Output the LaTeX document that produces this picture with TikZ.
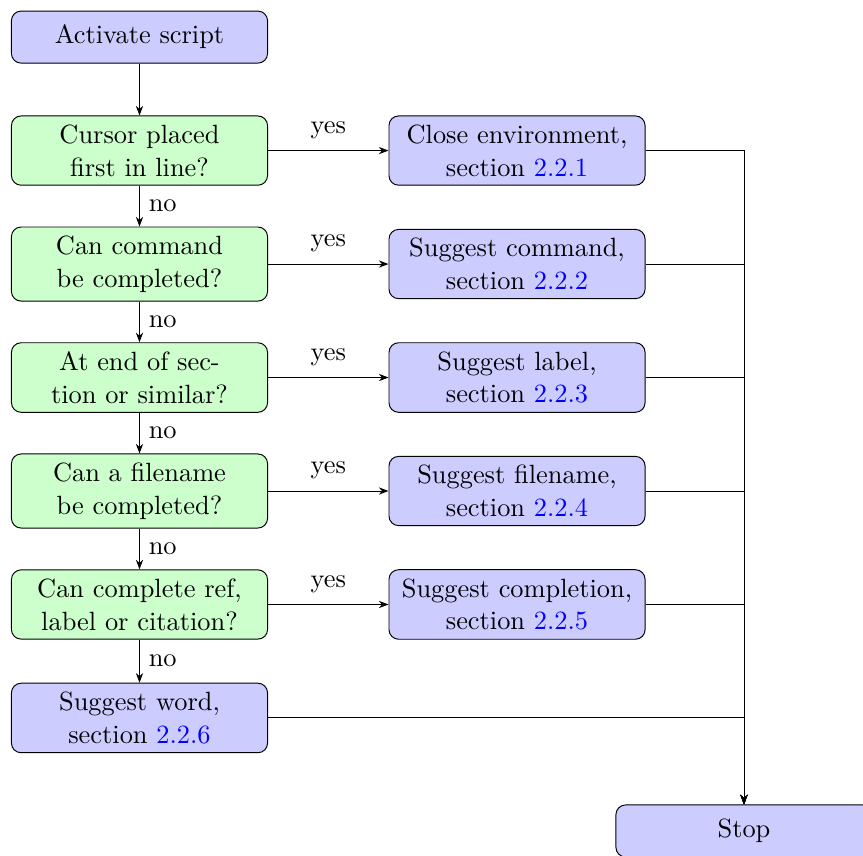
\documentclass[tikz,border=0pt,11pt]{standalone}
\usetikzlibrary{positioning,arrows.meta}
\newcommand{\secnum}[1]{\textcolor{blue}{#1}}
\begin{document}
\begin{tikzpicture}[node distance=50pt,
    >={Stealth[length=4pt,width=3pt]},
    box/.style={draw, rounded corners=4pt, text width=99pt, align=center,
      minimum height=21.6pt, inner sep=3.65pt},
    actbox/.style={box, fill=blue!20},
    askbox/.style={box, fill=green!20}]
    \useasboundingbox (-57.9pt,15.4pt) rectangle (300.3pt,-339.5pt);

    % left column
    \node[actbox] (activate) at (0,0) {Activate script};
    \node[askbox] (cursor) at (0,-47.1pt) {Cursor placed\\first in line?};
    \node[askbox] (command) at (0,-94.2pt) {Can command\\be completed?};
    \node[askbox] (endsec) at (0,-141.3pt) {At end of sec-\\tion or similar?};
    \node[askbox] (filename) at (0,-188.4pt) {Can a filename\\be completed?};
    \node[askbox] (ref) at (0,-235.5pt) {Can complete ref,\\label or citation?};
    \node[actbox] (word) at (0,-282.6pt) {Suggest word,\\section \secnum{2.2.6}};

    % right column
    \node[actbox, right=of cursor] (close) {Close environment,\\section \secnum{2.2.1}};
    \node[actbox, right=of command] (sugcmd) {Suggest command,\\section \secnum{2.2.2}};
    \node[actbox, right=of endsec] (suglabel) {Suggest label,\\section \secnum{2.2.3}};
    \node[actbox, right=of filename] (sugfile) {Suggest filename,\\section \secnum{2.2.4}};
    \node[actbox, right=of ref] (sugcompl) {Suggest completion,\\section \secnum{2.2.5}};
    \node[actbox] (stop) at (250.9pt,-329.5pt) {Stop};

    \draw[->] (activate) -- (cursor);
    \draw[->] (cursor) -- node[right] {no} (command);
    \draw[->] (command) -- node[right] {no} (endsec);
    \draw[->] (endsec) -- node[right] {no} (filename);
    \draw[->] (filename) -- node[right] {no} (ref);
    \draw[->] (ref) -- node[right] {no} (word);

    \draw[->] (cursor) -- node[above=1pt] {yes} (close);
    \draw[->] (command) -- node[above=1pt] {yes} (sugcmd);
    \draw[->] (endsec) -- node[above=1pt] {yes} (suglabel);
    \draw[->] (filename) -- node[above=1pt] {yes} (sugfile);
    \draw[->] (ref) -- node[above=1pt] {yes} (sugcompl);

    \draw[->] (close) -| (stop);
    \draw[->] (sugcmd) -| (stop);
    \draw[->] (suglabel) -| (stop);
    \draw[->] (sugfile) -| (stop);
    \draw[->] (sugcompl) -| (stop);
    \draw[->] (word) -| (stop);
\end{tikzpicture}
\end{document}
